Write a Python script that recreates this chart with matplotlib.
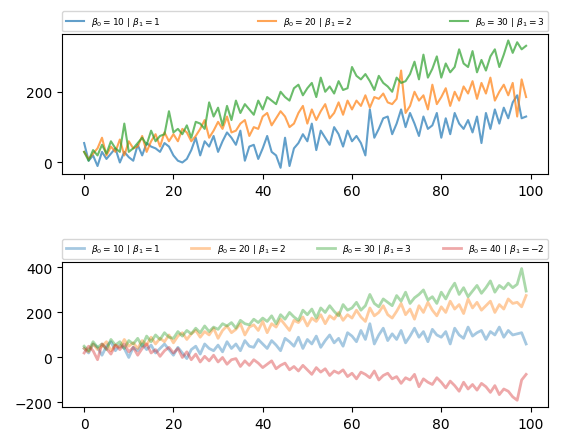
import matplotlib
matplotlib.use("Agg")
import matplotlib.pyplot as plt
import numpy as np

x = np.arange(100)
top_labels = [r'$\beta_0=10$ | $\beta_1=1$', r'$\beta_0=20$ | $\beta_1=2$', r'$\beta_0=30$ | $\beta_1=3$']
bot_labels = top_labels + [r'$\beta_0=40$ | $\beta_1=-2$']

top_blue = [55,5,20,-10,30,10,25,40,0,30, 15,5,50,20,55,45,40,30,55,45, 20,5,0,10,35,70,20,60,45,75,
            30,60,85,70,50,90,5,45,50,10, 40,75,30,20,-15,70,-10,40,55,80, 60,110,35,90,70,50,100,80,45,90,
            60,75,55,20,150,70,95,125,130,80, 110,150,100,140,110,75,130,95,105,140, 70,125,80,140,110,95,120,85,130,55,
            140,95,150,110,155,125,170,190,125,130]
top_orange = [30,10,25,40,70,20,45,30,65,20, 60,40,45,75,30,60,80,45,85,60, 80,60,95,85,60,75,95,120,70,90,
              115,95,130,85,90,110,120,75,100,95, 130,140,105,125,145,130,100,110,140,160, 110,150,120,145,165,125,140,170,135,175,
              150,175,160,190,155,185,180,195,170,165, 180,260,140,160,200,175,190,150,220,165, 185,210,160,200,175,215,195,230,180,225,
              195,240,175,200,220,190,225,130,235,185]
top_green = [30,5,35,20,50,25,60,40,30,110, 30,40,55,70,50,90,60,75,80,145, 85,95,80,105,70,115,110,95,170,130,
             155,105,160,120,175,140,165,150,135,175, 150,185,175,165,200,185,175,210,220,190, 210,225,185,240,200,215,195,230,205,210,
             270,245,235,250,230,205,245,225,215,200, 240,225,230,250,285,235,305,240,265,300, 240,280,255,270,320,280,270,315,255,290,
             260,300,320,270,305,345,310,340,320,330]

bot_blue = [40,20,60,45,10,50,70,30,55,40, 0,45,30,60,35,55,20,40,60,35, 10,45,20,-5,35,50,15,60,40,30,
            55,25,70,40,60,30,75,50,45,80, 60,40,75,55,30,85,70,50,90,40, 80,60,95,45,75,100,65,85,50,110,
            95,70,120,80,150,60,100,130,75,105, 80,120,65,95,130,90,115,70,125,100, 90,115,60,130,100,85,135,95,110,120,
            80,115,100,135,90,120,100,105,110,60]
bot_orange = [40,25,60,35,50,70,30,55,45,80, 50,65,40,75,55,90,60,85,70,100, 65,95,110,80,105,120,90,115,100,130,
              85,120,140,110,125,150,100,135,145,120, 160,110,150,135,170,145,120,165,155,180, 140,175,160,190,150,185,170,200,165,190,
              175,210,180,160,220,185,200,230,190,175, 205,240,190,215,170,230,200,245,210,185, 225,200,250,215,235,195,260,220,245,210,
              230,250,200,235,215,260,240,245,225,275]
bot_green = [50,30,70,45,60,35,80,55,70,40, 75,60,85,50,95,70,100,80,110,90, 85,115,95,120,105,130,110,140,115,135,
             125,150,140,155,130,165,150,145,170,155, 175,160,185,150,190,170,200,180,165,210, 190,215,175,220,200,230,205,185,235,210,
             220,245,210,230,280,240,225,260,245,230, 275,250,290,240,265,280,300,255,270,240, 290,260,300,330,280,310,270,295,320,285,
             310,340,290,320,305,330,310,325,395,295]
bot_red = [20,50,30,-10,60,40,15,55,35,60, 25,45,10,40,60,20,35,5,30,45, 20,40,0,25,-10,15,-20,5,-15,10,
           -20,0,-30,-10,-5,-40,-15,-35,-10,-25, -45,-30,-15,-50,-35,-25,-55,-40,-60,-35, -55,-75,-45,-65,-50,-80,-60,-70,-55,-85,
           -70,-95,-65,-75,-90,-60,-100,-80,-70,-95, -85,-115,-90,-100,-75,-130,-95,-110,-120,-90, -110,-135,-105,-125,-150,-110,-140,-120,-145,-115,
           -130,-155,-125,-165,-140,-150,-175,-190,-100,-75]

fig = plt.figure(figsize=(5.64, 4.39), dpi=100)
ax1 = fig.add_axes([0.110, 0.601, 0.862, 0.319])
ax2 = fig.add_axes([0.110, 0.071, 0.862, 0.330])

for ys, lab in zip([top_blue, top_orange, top_green], top_labels):
    ax1.plot(x, ys, alpha=0.7, lw=1.5, label=lab)
for ys, lab in zip([bot_blue, bot_orange, bot_green, bot_red], bot_labels):
    ax2.plot(x, ys, alpha=0.4, lw=2, label=lab)

for ax, n in [(ax1, 3), (ax2, 4)]:
    ax.legend(bbox_to_anchor=(0, 1.02, 1, 0.1), loc='lower left', ncol=n, mode='expand',
              borderaxespad=0, fontsize=6.5)
ax1.set_yticks([0, 200])
ax2.set_yticks([-200, 0, 200, 400])
fig.savefig("out.png", dpi=100)
